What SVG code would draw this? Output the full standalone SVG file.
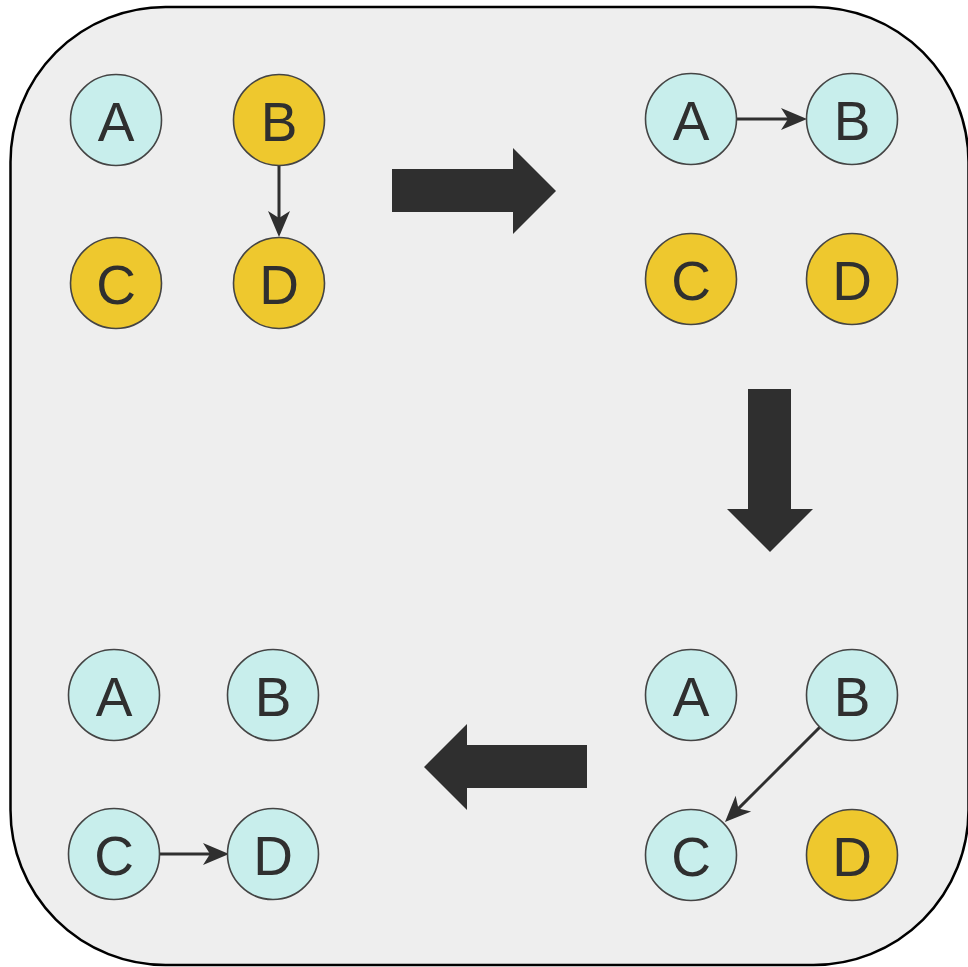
<svg xmlns="http://www.w3.org/2000/svg" width="968" height="967" viewBox="0 0 968 967">
  <style>
    .frame { fill: #eeeeee; stroke: #000000; stroke-width: 2.5; }
    .node circle { stroke: #444444; stroke-width: 1.6; }
    .cyan circle { fill: #c8eeec; }
    .gold circle { fill: #eec82e; }
    .node text { font-family: "Liberation Sans", Arial, sans-serif; font-size: 55px; fill: #2f2f2f; text-anchor: middle; }
    .edge { stroke: #2f2f2f; stroke-width: 3; fill: none; marker-end: url(#head); }
    .step { fill: #2f2f2f; }
  </style>
  <defs>
    <marker id="head" markerUnits="userSpaceOnUse" markerWidth="30" markerHeight="24" refX="11" refY="11" orient="auto" overflow="visible">
      <path d="M0,0 L26,11 L0,22 L7,11 Z" fill="#2f2f2f"/>
    </marker>
  </defs>

  <!-- outer panel -->
  <rect class="frame" x="10.5" y="7" width="958" height="958" rx="155" ry="155"/>

  <!-- step arrows between the four states -->
  <g id="step-arrows">
    <polygon class="step" points="392,169 513,169 513,148 556,191 513,234 513,212 392,212"/>
    <polygon class="step" points="748,389 791,389 791,509 813,509 770,552 727,509 748,509"/>
    <polygon class="step" points="587,745 467,745 467,724 424,767 467,810 467,788 587,788"/>
  </g>

  <!-- connectors -->
  <g id="connectors">
    <line class="edge" x1="279" y1="166" x2="279" y2="222"/>
    <line class="edge" x1="737" y1="119" x2="792" y2="119"/>
    <line class="edge" x1="820" y1="727" x2="735.6" y2="811.4"/>
    <line class="edge" x1="159" y1="854" x2="214" y2="854"/>
  </g>

  <!-- state 1 (top left) -->
  <g id="s1-A" class="node cyan"><circle cx="116" cy="120" r="45.5"/><text x="116" y="141">A</text></g>
  <g id="s1-B" class="node gold"><circle cx="279" cy="120" r="45.5"/><text x="279" y="141">B</text></g>
  <g id="s1-C" class="node gold"><circle cx="116" cy="283" r="45.5"/><text x="116" y="304">C</text></g>
  <g id="s1-D" class="node gold"><circle cx="279" cy="283" r="45.5"/><text x="279" y="304">D</text></g>

  <!-- state 2 (top right) -->
  <g id="s2-A" class="node cyan"><circle cx="691" cy="119" r="45.5"/><text x="691" y="140">A</text></g>
  <g id="s2-B" class="node cyan"><circle cx="852" cy="119" r="45.5"/><text x="852" y="140">B</text></g>
  <g id="s2-C" class="node gold"><circle cx="691" cy="279" r="45.5"/><text x="691" y="300">C</text></g>
  <g id="s2-D" class="node gold"><circle cx="852" cy="279" r="45.5"/><text x="852" y="300">D</text></g>

  <!-- state 3 (bottom right) -->
  <g id="s3-A" class="node cyan"><circle cx="691" cy="695" r="45.5"/><text x="691" y="716">A</text></g>
  <g id="s3-B" class="node cyan"><circle cx="852" cy="695" r="45.5"/><text x="852" y="716">B</text></g>
  <g id="s3-C" class="node cyan"><circle cx="691" cy="855" r="45.5"/><text x="691" y="876">C</text></g>
  <g id="s3-D" class="node gold"><circle cx="852" cy="855" r="45.5"/><text x="852" y="876">D</text></g>

  <!-- state 4 (bottom left) -->
  <g id="s4-A" class="node cyan"><circle cx="114" cy="695" r="45.5"/><text x="114" y="716">A</text></g>
  <g id="s4-B" class="node cyan"><circle cx="273" cy="695" r="45.5"/><text x="273" y="716">B</text></g>
  <g id="s4-C" class="node cyan"><circle cx="114" cy="854" r="45.5"/><text x="114" y="875">C</text></g>
  <g id="s4-D" class="node cyan"><circle cx="273" cy="854" r="45.5"/><text x="273" y="875">D</text></g>
</svg>
